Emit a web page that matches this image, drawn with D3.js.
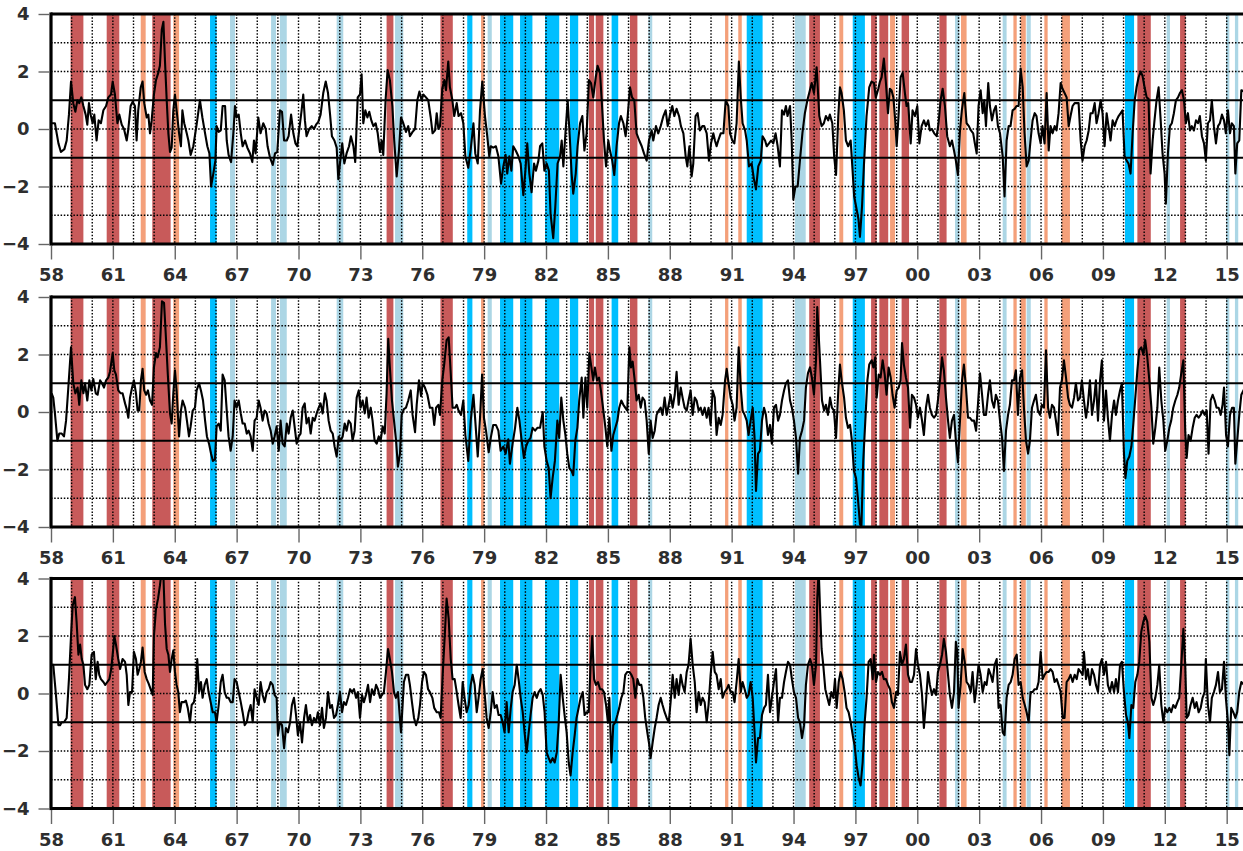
<!DOCTYPE html>
<html><head><meta charset="utf-8">
<script src="https://cdn.jsdelivr.net/npm/d3@7"></script>
<style>body{margin:0;background:#fff;}svg{display:block;}</style>
</head><body>
<svg id="chart" width="1243" height="851"></svg>
<script>
// ---------------- DATA ----------------
const xTickYears = [1958,1961,1964,1967,1970,1973,1976,1979,1982,1985,1988,1991,1994,1997,2000,2003,2006,2009,2012,2015];
const xTickLabels = ["58","61","64","67","70","73","76","79","82","85","88","91","94","97","00","03","06","09","12","15"];
const yTickValues = [-4,-2,0,2,4];
const dottedLevels = [-3,-2,0,2,3];
const thresholdLevels = [-1,1];

const bandStarts = [1958.95,1960.70,1962.35,1962.91,1963.93,1965.71,1966.68,1968.67,1969.10,1971.85,1974.27,1974.68,1976.88,1978.18,1978.85,1979.17,1979.77,1980.74,1981.95,1983.16,1984.08,1984.41,1985.18,1986.07,1986.96,1990.68,1991.32,1991.73,1994.07,1994.76,1996.22,1996.87,1997.76,1998.16,1998.68,1999.24,2001.07,2001.83,2002.12,2004.14,2004.66,2005.01,2005.30,2006.16,2007.00,2010.07,2010.67,2012.09,2012.74,2014.97,2015.40];
const bandEnds   = [1959.57,1961.31,1962.59,1963.80,1964.21,1966.03,1966.92,1968.91,1969.43,1972.17,1974.60,1975.08,1977.48,1978.43,1979.01,1979.37,1980.41,1981.34,1982.64,1983.56,1984.33,1984.78,1985.50,1986.43,1987.15,1990.84,1991.49,1992.50,1994.59,1995.28,1996.41,1997.46,1998.03,1998.59,1998.92,1999.60,2001.42,2002.04,2002.39,2004.33,2004.82,2005.26,2005.50,2006.32,2007.40,2010.51,2011.32,2012.25,2013.01,2015.13,2015.56];
const bandKinds  = ["W","W","w","W","w","C","c","c","c","c","W","c","W","C","w","c","C","C","C","C","W","W","C","W","c","w","w","C","c","W","w","C","W","W","w","W","W","c","w","c","w","w","c","w","w","C","W","c","W","c","c"];
const bandColors = {W:"#c85a5a", w:"#f4a07a", C:"#00bfff", c:"#acd6e5"};

const seriesTop = [[1958.03,0.2],[1958.19,0.2],[1958.36,-0.5],[1958.48,-0.8],[1958.65,-0.7],[1958.76,-0.4],[1958.87,0.5],[1958.97,1.65],[1959.08,0.9],[1959.18,0.6],[1959.28,1.0],[1959.37,0.9],[1959.47,1.1],[1959.57,0.8],[1959.68,0.5],[1959.76,0.15],[1959.84,0.9],[1959.92,0.5],[1960.02,0.2],[1960.10,0.5],[1960.21,-0.4],[1960.31,0.3],[1960.42,0.2],[1960.54,0.65],[1960.67,0.8],[1960.78,1.1],[1960.91,1.2],[1960.99,1.65],[1961.10,1.2],[1961.22,0.2],[1961.31,0.5],[1961.43,0.15],[1961.54,0.0],[1961.67,-0.4],[1961.75,0],[1961.86,0.8],[1961.96,0.95],[1962.07,0.8],[1962.15,-0.4],[1962.23,0.65],[1962.35,1.45],[1962.44,1.65],[1962.52,0.9],[1962.64,0.4],[1962.72,0.5],[1962.80,-0.15],[1962.88,0.3],[1962.99,1.2],[1963.09,1.7],[1963.20,1.95],[1963.28,2.2],[1963.37,3.45],[1963.45,3.73],[1963.53,2.3],[1963.61,1.0],[1963.69,-0.15],[1963.77,-0.8],[1963.85,-0.65],[1963.93,0.65],[1964.01,1.2],[1964.09,0.65],[1964.21,-0.15],[1964.30,-0.6],[1964.37,0.65],[1964.46,0.2],[1964.58,-0.15],[1964.66,-0.4],[1964.77,-0.9],[1964.90,-0.6],[1965.06,0.15],[1965.22,1.0],[1965.34,0.4],[1965.47,-0.15],[1965.58,-0.6],[1965.68,-0.85],[1965.76,-2.0],[1965.87,-1.55],[1965.97,-1.1],[1966.03,0.1],[1966.13,-0.1],[1966.23,-0.05],[1966.32,0.8],[1966.44,0.8],[1966.52,-0.4],[1966.61,-0.9],[1966.73,-1.15],[1966.84,-0.15],[1966.92,0.8],[1967.00,0.4],[1967.10,0.5],[1967.20,-0.15],[1967.29,-0.6],[1967.41,-0.4],[1967.52,-0.65],[1967.65,-0.85],[1967.76,-1.15],[1967.84,-0.4],[1967.92,-0.85],[1968.05,0.4],[1968.16,-0.15],[1968.29,0.2],[1968.41,0.0],[1968.50,-0.6],[1968.62,-1.0],[1968.75,-1.25],[1968.86,-0.85],[1968.97,-0.8],[1969.10,0.65],[1969.20,0.6],[1969.30,-0.4],[1969.43,-0.4],[1969.52,-0.25],[1969.64,0.5],[1969.75,-0.15],[1969.85,-0.5],[1969.94,-0.6],[1970.04,0],[1970.15,0.65],[1970.23,1.2],[1970.31,0.3],[1970.39,-0.25],[1970.52,0],[1970.64,0.1],[1970.75,0],[1970.85,0.15],[1970.96,0.25],[1971.07,0.5],[1971.20,1.25],[1971.32,1.65],[1971.43,1.25],[1971.53,0.5],[1971.62,-0.25],[1971.74,-0.4],[1971.85,-0.65],[1971.93,-1.75],[1972.01,-1.2],[1972.12,-0.5],[1972.22,-1.2],[1972.33,-0.85],[1972.45,-0.6],[1972.54,-0.25],[1972.66,-0.6],[1972.75,-1.15],[1972.87,1.1],[1972.98,1.2],[1973.06,1.9],[1973.14,0.2],[1973.24,0.65],[1973.34,0.4],[1973.43,0.6],[1973.53,0.3],[1973.63,0.1],[1973.74,0.2],[1973.84,-0.15],[1973.95,-0.8],[1974.03,-0.4],[1974.11,-0.9],[1974.22,1.0],[1974.32,2.05],[1974.43,1.7],[1974.55,0.8],[1974.64,-0.4],[1974.76,-1.65],[1974.87,-0.75],
[1974.97,0.4],[1975.08,0.2],[1975.21,-0.1],[1975.32,0.1],[1975.40,-0.25],[1975.53,-0.1],[1975.65,0],[1975.76,1.0],[1975.86,1.3],[1975.97,1.0],[1976.05,1.2],[1976.18,1.1],[1976.29,1.0],[1976.41,0.4],[1976.50,-0.15],[1976.62,-0.05],[1976.70,0.55],[1976.78,0.0],[1976.86,0.1],[1976.97,1.4],[1977.07,1.7],[1977.15,1.35],[1977.26,2.35],[1977.34,1.45],[1977.46,1.0],[1977.55,0.45],[1977.67,0.9],[1977.76,0.45],[1977.88,0.55],[1977.99,0.2],[1978.09,-0.95],[1978.23,-1.35],[1978.35,-0.7],[1978.48,0.2],[1978.57,-0.85],[1978.69,-1.2],[1978.80,0.65],[1978.91,1.65],[1979.04,0.45],[1979.15,-0.25],[1979.25,-0.95],[1979.32,-0.6],[1979.44,-0.65],[1979.57,-0.6],[1979.69,-0.95],[1979.82,-1.9],[1979.93,-1.3],[1980.04,-0.9],[1980.12,-1.55],[1980.22,-0.95],[1980.32,-1.45],[1980.41,-0.6],[1980.53,-0.75],[1980.66,-0.95],[1980.77,-1.2],[1980.90,-2.3],[1981.00,-1.45],[1981.09,-0.5],[1981.19,-1.55],[1981.30,-2.2],[1981.42,-1.2],[1981.51,-1.45],[1981.63,-1.1],[1981.71,-0.6],[1981.82,-0.5],[1981.92,-1.45],[1982.03,-1.2],[1982.14,-1.45],[1982.22,-2.95],[1982.35,-3.8],[1982.45,-2.7],[1982.56,-1.2],[1982.68,-0.95],[1982.76,-0.4],[1982.84,-1.3],[1982.95,-0.05],[1983.05,1.0],[1983.16,-0.4],[1983.24,-1.55],[1983.32,-2.25],[1983.44,-1.55],[1983.53,-0.6],[1983.65,0.2],[1983.76,0.45],[1983.86,-0.75],[1983.97,-0.15],[1984.08,1.7],[1984.18,1.6],[1984.29,1.1],[1984.41,1.8],[1984.50,2.2],[1984.62,1.95],[1984.70,1.0],[1984.81,-0.4],[1984.91,-1.3],[1985.02,-0.4],[1985.10,-0.75],[1985.21,-1.1],[1985.31,-1.6],[1985.42,-0.6],[1985.54,0.2],[1985.63,0.45],[1985.75,0.2],[1985.86,-0.25],[1985.96,0.45],[1986.07,1.45],[1986.17,1.1],[1986.28,1.0],[1986.39,-0.15],[1986.52,-0.4],[1986.64,-0.6],[1986.75,-0.85],[1986.88,-1.1],[1986.99,-0.4],[1987.12,-0.05],[1987.20,-0.4],[1987.33,0.1],[1987.44,-0.15],[1987.56,0.1],[1987.69,0.45],[1987.80,0.65],[1987.90,0.1],[1988.01,0.5],[1988.12,0.8],[1988.22,0.45],[1988.33,0.7],[1988.45,0.45],[1988.54,0.1],[1988.66,-0.15],[1988.77,-0.95],[1988.85,-1.3],[1988.95,-0.6],[1989.06,-1.65],[1989.14,-1.2],[1989.25,0.45],[1989.35,0.55],[1989.46,-0.05],[1989.58,0.1],[1989.67,0.1],[1989.79,-0.15],[1989.90,-1.1],[1990.00,-0.5],[1990.11,-0.15],[1990.19,-0.4],[1990.27,-0.6],[1990.35,-0.4],[1990.47,-0.15],[1990.60,-0.15],[1990.71,1.0],[1990.84,0.8],[1990.92,-0.15],[1991.03,-0.4],[1991.13,-0.5],[1991.24,0.2],[1991.35,2.35],[1991.44,1.1],[1991.53,0.2],[1991.65,-0.05],[1991.73,-0.4],[1991.84,-1.3],[1991.97,-1.2],[1992.08,-1.75],[1992.18,-2.1],[1992.29,-1.3],[1992.41,-1.1],[1992.50,-0.25],[1992.62,-0.4],[1992.70,-0.6],[1992.81,-0.5],[1992.91,-0.4],[1993.02,-0.5],[1993.13,-0.15],[1993.23,-0.6],[1993.34,-1.3],[1993.44,0.65],[1993.54,0.5],[1993.63,0.8],[1993.71,0.45],[1993.83,0.8],[1993.91,-0.4],[1993.99,-2.45],[1994.09,-2.0],[1994.20,-2.0],[1994.31,-1.1],[1994.43,-0.15],[1994.55,0.55],[1994.67,1.0],[1994.76,1.25],[1994.88,1.6],[1994.99,1.25],[1995.12,2.15],[1995.25,0.45],
[1995.36,0.1],[1995.47,0.2],[1995.57,0.45],[1995.68,0.3],[1995.76,0.5],[1995.88,0.2],[1995.97,-0.95],[1996.06,-1.6],[1996.17,0.45],[1996.25,1.45],[1996.33,1.25],[1996.44,0.65],[1996.54,-0.4],[1996.65,-0.6],[1996.77,-0.4],[1996.85,-1.3],[1996.94,-2.35],[1997.06,-2.8],[1997.15,-3.15],[1997.22,-3.75],[1997.32,-2.7],[1997.41,-1.3],[1997.54,0.45],[1997.67,1.45],[1997.78,1.65],[1997.90,1.6],[1997.99,1.1],[1998.11,1.4],[1998.19,1.65],[1998.27,1.8],[1998.38,2.45],[1998.48,1.6],[1998.58,0.55],[1998.67,1.4],[1998.75,1.35],[1998.84,1.1],[1998.93,0.3],[1999.00,-0.6],[1999.09,0.45],[1999.19,1.8],[1999.29,1.95],[1999.40,1.25],[1999.48,0.8],[1999.56,0.9],[1999.68,-0.5],[1999.77,0.65],[1999.89,0.45],[2000.00,0.8],[2000.10,-0.5],[2000.21,0.1],[2000.32,0.3],[2000.42,0.1],[2000.53,0.3],[2000.61,-0.05],[2000.71,0],[2000.82,-0.15],[2000.94,-0.25],[2001.03,0.2],[2001.13,1.0],[2001.23,1.4],[2001.34,0.8],[2001.45,-0.25],[2001.58,-0.6],[2001.68,-0.4],[2001.78,-0.75],[2001.87,-1.1],[2001.97,-1.6],[2002.07,-0.05],[2002.16,0.65],[2002.28,1.25],[2002.39,0.2],[2002.50,0.1],[2002.60,-0.05],[2002.71,-0.15],[2002.79,-0.5],[2002.88,-0.85],[2002.97,0.8],[2003.07,1.35],[2003.17,0.55],[2003.25,1.0],[2003.33,0.1],[2003.44,1.6],[2003.52,0.8],[2003.62,0.3],[2003.72,0.65],[2003.81,0.8],[2003.91,0.1],[2004.01,-0.15],[2004.14,-0.95],[2004.23,-2.35],[2004.33,-0.4],[2004.43,0.1],[2004.52,0.1],[2004.62,0.65],[2004.72,0.7],[2004.81,0.8],[2004.91,0.8],[2005.01,2.1],[2005.11,1.45],[2005.20,-0.15],[2005.30,-1.3],[2005.40,-1.1],[2005.49,-0.4],[2005.59,0.3],[2005.69,0.55],[2005.78,0.45],[2005.88,-0.15],[2005.98,-0.5],[2006.07,0.1],[2006.17,-0.5],[2006.27,1.25],[2006.37,-0.75],[2006.46,0.1],[2006.56,-0.15],[2006.66,0.1],[2006.75,-0.05],[2006.85,0.55],[2006.95,1.6],[2007.04,1.4],[2007.14,1.25],[2007.24,1.1],[2007.34,0.1],[2007.43,0.45],[2007.53,0.8],[2007.63,0.9],[2007.72,0.9],[2007.82,0.9],[2007.92,-0.4],[2008.01,-1.1],[2008.11,-0.6],[2008.21,-0.4],[2008.31,-0.05],[2008.40,0.55],[2008.50,0.55],[2008.60,0.9],[2008.69,0.2],[2008.79,0.55],[2008.89,1.0],[2008.98,0.55],[2009.08,-0.6],[2009.18,0.55],[2009.27,0.1],[2009.37,-0.4],[2009.47,0.3],[2009.57,0.1],[2009.66,0.3],[2009.76,0.45],[2009.86,0.55],[2009.95,0.65],[2010.05,-0.95],[2010.15,-1.1],[2010.24,-1.2],[2010.34,-1.55],[2010.44,-0.15],[2010.54,1.0],[2010.63,1.45],[2010.73,1.8],[2010.83,2.0],[2010.92,1.85],[2011.02,1.45],[2011.12,1.1],[2011.21,1.05],[2011.31,-1.55],[2011.41,-0.4],[2011.50,0.3],[2011.60,1.0],[2011.70,1.45],[2011.80,0.3],[2011.89,-0.85],[2011.99,-1.55],[2012.05,-2.6],[2012.15,-0.85],[2012.25,0.1],[2012.34,0.2],[2012.44,0.55],[2012.54,1.0],[2012.64,1.1],[2012.73,1.25],[2012.83,1.35],[2012.93,1.0],[2013.02,0.2],[2013.12,0.55],[2013.22,-0.05],[2013.31,0.1],[2013.41,-0.05],[2013.51,0.3],[2013.61,0.2],[2013.70,0.45],[2013.80,-0.25],[2013.90,-0.5],[2013.99,-1.1],[2014.09,0.2],[2014.19,0.3],[2014.28,1.0],[2014.38,0.1],[2014.48,-0.5],[2014.58,0.1],[2014.67,0.2],[2014.77,0.5],[2014.87,0.3],[2014.96,-0.15],[2015.06,0.65],[2015.16,-0.15],[2015.25,0.2],[2015.35,0.1],[2015.42,-1.55],[2015.51,-0.5],[2015.61,-0.4],[2015.71,1.35],[2015.85,1.3]];

const seriesMiddle = [[1958.03,0.65],[1958.11,0.5],[1958.19,-0.05],[1958.31,-1.0],[1958.40,-0.75],[1958.52,-0.75],[1958.63,-0.85],[1958.73,-0.3],[1958.84,0.85],[1958.97,2.25],[1959.08,1.0],[1959.18,0.65],[1959.29,0.85],[1959.37,0.25],[1959.47,1.1],[1959.57,0.65],[1959.65,1.0],[1959.76,0.4],[1959.86,1.1],[1959.96,0.75],[1960.05,1.15],[1960.17,0.65],[1960.26,0.6],[1960.38,1.1],[1960.47,1.0],[1960.57,0.85],[1960.67,1.1],[1960.78,1.2],[1960.86,1.4],[1960.99,2.05],[1961.07,1.45],[1961.15,1.3],[1961.26,0.75],[1961.38,0.65],[1961.47,0.65],[1961.59,0.3],[1961.67,0.1],[1961.75,-0.2],[1961.83,0.5],[1961.93,0.85],[1962.02,1.1],[1962.12,0.65],[1962.20,0.05],[1962.28,0.05],[1962.36,1.1],[1962.44,1.5],[1962.52,0.75],[1962.61,0.6],[1962.70,0.75],[1962.80,0.4],[1962.90,0.25],[1962.99,1.55],[1963.09,2.05],[1963.17,1.9],[1963.28,2.25],[1963.38,3.85],[1963.48,3.8],[1963.56,2.75],[1963.66,1.35],[1963.77,-0.05],[1963.85,-0.4],[1963.93,0.65],[1964.01,1.45],[1964.09,0.75],[1964.21,-0.85],[1964.30,0.05],[1964.38,0.4],[1964.50,0.15],[1964.59,-0.3],[1964.69,-0.85],[1964.77,-0.5],[1964.87,0.05],[1964.98,0.15],[1965.06,0.75],[1965.18,1.0],[1965.27,0.75],[1965.37,0.4],[1965.47,-0.3],[1965.56,-0.85],[1965.66,-1.1],[1965.76,-1.45],[1965.85,-1.7],[1965.95,-1.65],[1966.03,-0.5],[1966.13,-0.4],[1966.23,-0.65],[1966.32,1.3],[1966.42,1.1],[1966.52,0.05],[1966.61,-0.85],[1966.71,-1.35],[1966.81,-0.85],[1966.90,0.4],[1967.00,0.15],[1967.10,0.4],[1967.20,-0.05],[1967.29,-0.4],[1967.39,-0.4],[1967.49,-0.75],[1967.58,-0.65],[1967.68,-0.85],[1967.78,-1.35],[1967.87,-0.3],[1967.97,-0.2],[1968.07,0.4],[1968.16,0.15],[1968.26,-0.3],[1968.36,0.05],[1968.46,-0.05],[1968.55,-0.4],[1968.65,-0.65],[1968.75,-1.1],[1968.84,-0.85],[1968.94,-0.5],[1969.04,-1.35],[1969.13,-0.3],[1969.23,-1.1],[1969.33,-1.2],[1969.43,-0.4],[1969.52,-0.75],[1969.62,-0.2],[1969.72,0.05],[1969.81,-0.5],[1969.91,-1.1],[1970.01,-0.85],[1970.10,-0.75],[1970.20,0.15],[1970.30,0.3],[1970.39,-0.4],[1970.49,-0.2],[1970.59,-0.75],[1970.69,-0.2],[1970.78,-0.3],[1970.88,-0.05],[1970.98,0.15],[1971.07,0.3],[1971.17,-0.05],[1971.28,0.65],[1971.36,0.4],[1971.46,-0.3],[1971.56,-0.65],[1971.66,-0.75],[1971.75,-1.2],[1971.85,-1.55],[1971.95,-0.85],[1972.04,-1.0],[1972.14,-0.85],[1972.24,-0.4],[1972.33,-0.65],[1972.43,-0.3],[1972.53,-0.4],[1972.62,-1.0],[1972.72,-0.65],[1972.82,0.5],[1972.92,0.75],[1973.01,0.15],[1973.11,0.4],[1973.21,-0.05],[1973.30,0.5],[1973.40,-0.2],[1973.50,0.15],[1973.59,-0.3],[1973.69,-1.0],[1973.79,-1.1],[1973.89,-0.85],[1973.98,-1.0],[1974.08,-0.5],[1974.18,-0.75],[1974.27,0.65],[1974.35,2.55],[1974.43,1.55],[1974.53,0.4],[1974.63,-0.3],[1974.73,-1.0],[1974.82,-1.9],
[1974.92,-1.45],[1975.00,-0.1],[1975.11,0.1],[1975.21,0.15],[1975.32,0.4],[1975.44,0.75],[1975.53,-0.1],[1975.65,-0.7],[1975.73,0.25],[1975.84,1.1],[1975.94,0.55],[1976.02,1.0],[1976.13,0.85],[1976.25,0.6],[1976.37,0.15],[1976.49,0.15],[1976.58,-0.45],[1976.67,0.15],[1976.78,0.25],[1976.86,-0.1],[1976.97,1.1],[1977.07,1.7],[1977.18,2.5],[1977.28,2.6],[1977.38,1.35],[1977.47,0.15],[1977.59,0.15],[1977.67,0.25],[1977.76,0.05],[1977.88,-0.1],[1977.99,0.4],[1978.09,-0.8],[1978.23,-1.7],[1978.35,-0.3],[1978.48,0.6],[1978.57,-0.3],[1978.69,-1.55],[1978.80,-0.2],[1978.90,1.3],[1978.99,-0.2],[1979.09,-0.65],[1979.22,-1.4],[1979.32,-0.9],[1979.44,-0.45],[1979.57,-0.45],[1979.69,-0.65],[1979.80,-1.35],[1979.93,-1.2],[1980.04,-1.45],[1980.17,-0.95],[1980.25,-1.8],[1980.38,-1.1],[1980.50,-0.55],[1980.61,0.15],[1980.71,-0.3],[1980.82,-1.0],[1980.93,-1.6],[1981.03,-1.2],[1981.14,-1.0],[1981.25,-0.9],[1981.35,-0.55],[1981.47,-0.65],[1981.58,-0.55],[1981.71,-0.55],[1981.84,0],[1981.92,-1.2],[1982.03,-1.7],[1982.13,-1.95],[1982.22,-3.0],[1982.32,-2.3],[1982.43,-1.7],[1982.55,-0.3],[1982.64,-0.9],[1982.74,0.5],[1982.84,-0.3],[1982.94,-0.8],[1983.03,-1.45],[1983.13,-1.95],[1983.24,-2.05],[1983.32,-2.2],[1983.42,-1.0],[1983.52,-0.55],[1983.61,0.4],[1983.73,1.2],[1983.81,-0.2],[1983.91,1.2],[1984.00,0.15],[1984.10,2.05],[1984.20,1.55],[1984.29,1.1],[1984.37,1.55],[1984.47,1.1],[1984.57,1.2],[1984.66,0.75],[1984.78,0.05],[1984.88,-0.55],[1984.97,-1.2],[1985.07,-0.2],[1985.17,-1.35],[1985.26,-0.8],[1985.36,-0.55],[1985.46,-0.3],[1985.55,0.15],[1985.65,0.4],[1985.75,0.25],[1985.84,0.15],[1985.94,0.05],[1986.04,2.25],[1986.12,1.55],[1986.20,1.75],[1986.30,1.1],[1986.39,0.4],[1986.49,0.6],[1986.59,0.15],[1986.68,0.5],[1986.78,0.4],[1986.88,-0.3],[1986.98,-1.45],[1987.07,-0.3],[1987.17,-0.9],[1987.27,-0.65],[1987.36,-0.1],[1987.46,0.05],[1987.56,0.15],[1987.65,-0.1],[1987.75,0.5],[1987.85,-0.1],[1987.95,0.25],[1988.04,0.6],[1988.14,0.15],[1988.24,0.6],[1988.33,1.4],[1988.43,0.25],[1988.53,0.85],[1988.62,0.5],[1988.72,0.15],[1988.82,0.05],[1988.91,0.4],[1989.01,0.75],[1989.11,-0.1],[1989.21,0.5],[1989.30,0.4],[1989.40,0.05],[1989.50,0.15],[1989.59,-0.1],[1989.69,0.15],[1989.79,-0.2],[1989.88,0.15],[1989.98,-0.45],[1990.08,0.75],[1990.18,0.5],[1990.27,-0.8],[1990.37,-0.2],[1990.47,-0.45],[1990.56,-0.1],[1990.68,1.1],[1990.76,1.5],[1990.85,1.0],[1990.95,0.5],[1991.05,0.25],[1991.14,-0.3],[1991.24,0.15],[1991.34,2.25],[1991.44,0.85],[1991.53,0.05],[1991.63,-0.1],[1991.73,-0.3],[1991.82,-0.8],[1991.92,-0.3],[1992.02,0.15],[1992.11,-0.9],[1992.18,-2.75],[1992.28,-1.45],[1992.37,-1.35],[1992.47,-0.3],[1992.57,0.15],[1992.66,-0.1],[1992.76,-0.8],[1992.86,-0.45],[1992.95,-1.1],[1993.05,0.15],[1993.15,0.25],[1993.25,-0.3],[1993.34,-0.1],[1993.44,0.4],[1993.54,0.75],[1993.63,1.0],[1993.73,1.1],[1993.83,0.4],[1993.92,0.15],[1994.02,-0.3],[1994.12,-0.9],[1994.22,-2.15],[1994.31,-0.9],[1994.41,-0.65],[1994.51,-0.3],[1994.60,0.85],[1994.70,1.35],[1994.80,1.55],[1994.89,1.2],[1994.99,0.6],[1995.09,1.8],[1995.15,3.65],[1995.25,2.25],
[1995.38,0.4],[1995.48,0.05],[1995.57,0.25],[1995.67,-0.1],[1995.77,0.5],[1995.86,0.15],[1995.96,0.05],[1996.06,-0.9],[1996.17,0.75],[1996.25,1.65],[1996.35,1.0],[1996.45,0.5],[1996.54,-0.2],[1996.64,-0.55],[1996.74,-0.45],[1996.83,-1.0],[1996.93,-2.05],[1997.03,-2.3],[1997.12,-3.0],[1997.22,-3.9],[1997.29,-4.0],[1997.38,-1.7],[1997.48,-0.3],[1997.58,1.1],[1997.67,1.65],[1997.79,1.8],[1997.87,1.55],[1997.96,1.9],[1998.03,0.5],[1998.13,1.3],[1998.22,1.2],[1998.32,1.8],[1998.42,1.3],[1998.51,0.6],[1998.61,1.55],[1998.71,1.2],[1998.80,0.6],[1998.90,0.15],[1999.00,0.75],[1999.10,0.85],[1999.19,1.1],[1999.26,2.4],[1999.35,1.65],[1999.45,1.2],[1999.55,0.85],[1999.65,-0.55],[1999.74,0.6],[1999.84,0.5],[1999.94,0.25],[2000.03,-0.2],[2000.13,0.15],[2000.23,-0.3],[2000.32,-0.8],[2000.42,0.15],[2000.52,0.6],[2000.61,0.15],[2000.71,-0.1],[2000.81,-0.2],[2000.91,-0.1],[2001.00,0.4],[2001.10,1.1],[2001.20,1.9],[2001.29,1.45],[2001.39,0.5],[2001.49,-0.3],[2001.58,-0.9],[2001.68,-0.3],[2001.78,-0.1],[2001.87,-1.0],[2001.97,-1.75],[2002.07,-0.3],[2002.17,1.1],[2002.26,1.65],[2002.36,0.85],[2002.46,-0.2],[2002.55,-0.2],[2002.65,-0.3],[2002.75,-0.3],[2002.85,-0.65],[2002.94,0.25],[2003.04,1.35],[2003.14,0.6],[2003.23,-0.1],[2003.33,-0.1],[2003.43,0.6],[2003.52,1.1],[2003.62,0.4],[2003.72,0.15],[2003.81,0.6],[2003.91,0.4],[2004.01,-0.3],[2004.11,-0.9],[2004.20,-2.05],[2004.30,-0.65],[2004.40,-0.1],[2004.49,0.25],[2004.59,1.1],[2004.69,1.1],[2004.78,1.45],[2004.88,-0.1],[2004.98,1.2],[2005.08,1.45],[2005.17,0.15],[2005.27,-1.0],[2005.37,-1.45],[2005.46,-1.0],[2005.56,0.15],[2005.66,0.4],[2005.75,0.6],[2005.85,0.05],[2005.95,-0.1],[2006.04,0.25],[2006.14,0.15],[2006.24,2.15],[2006.34,0.15],[2006.43,-0.2],[2006.53,0.25],[2006.63,0.15],[2006.72,-0.3],[2006.82,-0.8],[2006.92,0.85],[2007.01,1.1],[2007.11,1.8],[2007.21,1.2],[2007.31,0.5],[2007.40,0.25],[2007.50,0.15],[2007.60,0.5],[2007.69,1.0],[2007.79,0.4],[2007.89,0.5],[2007.98,1.1],[2008.08,0.4],[2008.18,-0.2],[2008.27,0.25],[2008.37,1.1],[2008.47,-0.1],[2008.57,0.4],[2008.66,1.1],[2008.76,-0.3],[2008.86,1.1],[2008.95,1.8],[2009.05,-0.3],[2009.15,0.75],[2009.24,-0.2],[2009.34,-1.0],[2009.44,-0.1],[2009.54,0.4],[2009.63,-0.1],[2009.73,0.4],[2009.83,0.75],[2009.92,1.0],[2010.02,-1.45],[2010.09,-2.3],[2010.18,-1.7],[2010.28,-1.55],[2010.38,-1.2],[2010.47,-0.45],[2010.57,0.5],[2010.67,1.45],[2010.76,2.15],[2010.86,2.25],[2010.96,2.0],[2011.05,2.5],[2011.15,1.9],[2011.25,1.1],[2011.35,0.15],[2011.44,-1.1],[2011.54,-0.55],[2011.64,0.15],[2011.73,1.55],[2011.83,0.4],[2011.93,-0.3],[2012.02,-1.35],[2012.12,-1.0],[2012.22,-0.55],[2012.31,-0.3],[2012.41,0.15],[2012.51,0.4],[2012.61,0.6],[2012.70,0.85],[2012.80,1.35],[2012.90,1.8],[2012.99,-0.65],[2013.06,-1.6],[2013.15,-0.8],[2013.25,-1.0],[2013.35,-0.55],[2013.45,-0.2],[2013.54,-0.1],[2013.64,-0.2],[2013.74,-0.1],[2013.83,0.05],[2013.93,-0.1],[2014.03,0.05],[2014.12,-1.45],[2014.22,0.4],[2014.32,0.6],[2014.42,0.4],[2014.51,0.15],[2014.61,0.15],[2014.71,-0.1],[2014.80,0.25],[2014.87,0.85],[2014.97,-0.8],[2015.06,-1.2],[2015.16,-0.1],[2015.26,0.15],[2015.35,0.15],[2015.42,-1.8],[2015.51,-1.0],[2015.61,-0.1],[2015.71,0.6],[2015.85,0.8]];

const seriesBottom = [[1958.03,1.0],[1958.11,1.0],[1958.24,-0.05],[1958.36,-1.1],[1958.44,-1.1],[1958.52,-1.0],[1958.63,-1.0],[1958.76,-0.85],[1958.87,0.5],[1958.97,2.0],[1959.05,3.05],[1959.16,3.35],[1959.24,2.5],[1959.33,1.35],[1959.41,1.7],[1959.49,1.2],[1959.57,1.0],[1959.65,0.3],[1959.76,0.15],[1959.86,0.3],[1959.97,1.35],[1960.08,1.45],[1960.17,0.5],[1960.26,1.1],[1960.34,0.65],[1960.42,0.5],[1960.54,0.4],[1960.63,0.3],[1960.73,0.4],[1960.83,0.5],[1960.92,0.85],[1960.99,1.35],[1961.07,2.0],[1961.15,1.7],[1961.26,1.2],[1961.35,0.85],[1961.47,1.2],[1961.59,1.1],[1961.67,0.65],[1961.75,-0.4],[1961.83,0.05],[1961.93,0.05],[1962.02,1.45],[1962.12,1.2],[1962.20,0.65],[1962.28,0.85],[1962.36,1.1],[1962.44,1.6],[1962.54,0.75],[1962.64,0.5],[1962.73,0.35],[1962.83,0.15],[1962.93,-0.05],[1962.99,2.0],[1963.09,2.95],[1963.19,3.3],[1963.28,3.75],[1963.37,4.3],[1963.45,4.1],[1963.53,2.4],[1963.61,1.55],[1963.69,1.35],[1963.77,0.75],[1963.85,1.2],[1963.93,1.5],[1964.01,0.75],[1964.09,0.3],[1964.17,0.05],[1964.25,-0.65],[1964.33,-0.3],[1964.45,-0.3],[1964.54,-0.25],[1964.63,-0.5],[1964.74,-1.0],[1964.82,-0.4],[1964.93,-0.3],[1965.01,0.05],[1965.09,1.2],[1965.18,0.05],[1965.27,0.4],[1965.35,-0.15],[1965.45,0.3],[1965.55,0.5],[1965.64,0.05],[1965.74,-0.3],[1965.84,-0.65],[1965.95,-0.65],[1966.03,-1.0],[1966.13,-0.4],[1966.23,0.4],[1966.32,0.65],[1966.42,0.05],[1966.52,-0.15],[1966.61,-0.15],[1966.71,-0.3],[1966.81,-0.3],[1966.90,0.5],[1967.00,0.4],[1967.10,0.05],[1967.20,-0.3],[1967.29,-0.65],[1967.39,-1.1],[1967.49,-1.0],[1967.58,-0.65],[1967.68,-0.4],[1967.78,-1.0],[1967.87,0.15],[1967.97,-0.15],[1968.07,-0.4],[1968.16,0.4],[1968.26,-0.05],[1968.36,-0.3],[1968.46,0.05],[1968.55,0.15],[1968.65,0.4],[1968.75,0.3],[1968.84,-0.05],[1968.94,-0.15],[1969.00,-1.45],[1969.10,-1.0],[1969.20,-1.1],[1969.30,-1.9],[1969.39,-1.2],[1969.49,-1.35],[1969.59,-1.0],[1969.68,-0.4],[1969.78,-0.15],[1969.88,-0.75],[1969.97,-1.45],[1970.07,-1.0],[1970.17,-1.7],[1970.27,-0.85],[1970.36,-0.4],[1970.46,-1.0],[1970.56,-0.75],[1970.65,-1.1],[1970.75,-0.85],[1970.85,-1.0],[1970.94,-0.65],[1971.04,-1.1],[1971.14,-0.5],[1971.23,-1.2],[1971.33,-0.85],[1971.43,0.05],[1971.53,-0.5],[1971.62,-0.4],[1971.72,-0.85],[1971.82,-0.75],[1971.91,-0.4],[1972.01,0.05],[1972.11,-0.65],[1972.20,-0.3],[1972.30,-0.4],[1972.40,-0.15],[1972.50,0.15],[1972.59,0.05],[1972.69,0.15],[1972.79,-0.15],[1972.88,0.05],[1972.98,-0.85],[1973.08,-0.05],[1973.17,-0.3],[1973.27,-0.05],[1973.37,0.3],[1973.47,-0.3],[1973.56,0.15],[1973.66,-0.05],[1973.76,0.3],[1973.85,0.15],[1973.95,-0.15],[1974.05,-0.05],[1974.14,0.05],[1974.24,0.75],[1974.34,1.55],[1974.43,1.2],[1974.53,0.75],[1974.63,0.05],[1974.72,-0.15],[1974.82,0.05],[1974.97,-1.35],
[1975.11,0.4],[1975.21,0.65],[1975.32,0.65],[1975.40,0.3],[1975.50,-0.3],[1975.60,-0.85],[1975.70,-1.1],[1975.81,-0.85],[1975.89,-0.4],[1975.99,0.4],[1976.08,0.75],[1976.18,0.65],[1976.28,0.15],[1976.37,0.05],[1976.49,-0.15],[1976.58,-0.5],[1976.70,-0.65],[1976.81,-0.65],[1976.89,-0.85],[1976.99,0.65],[1977.10,2.15],[1977.18,3.3],[1977.28,2.6],[1977.38,1.2],[1977.47,0.5],[1977.57,0.5],[1977.67,0.05],[1977.76,-0.4],[1977.86,-0.85],[1977.96,0.4],[1978.05,-0.15],[1978.15,-0.65],[1978.25,-0.4],[1978.35,0.3],[1978.44,0.65],[1978.54,0.3],[1978.64,-0.65],[1978.73,-0.15],[1978.83,0.5],[1978.93,0.85],[1979.02,0.05],[1979.12,-0.85],[1979.22,-1.2],[1979.32,-0.65],[1979.41,0.05],[1979.51,-0.5],[1979.61,-0.4],[1979.70,-0.75],[1979.80,-0.75],[1979.90,-1.0],[1979.99,-1.35],[1980.09,-0.3],[1980.19,-1.35],[1980.29,-0.5],[1980.38,0.05],[1980.48,0.3],[1980.58,1.0],[1980.67,0.5],[1980.77,-0.15],[1980.87,-0.65],[1980.96,-1.35],[1981.06,-2.05],[1981.16,-1.35],[1981.25,-0.75],[1981.35,-0.15],[1981.45,0.05],[1981.55,-0.15],[1981.64,0.05],[1981.74,0.15],[1981.84,-0.05],[1981.93,-0.65],[1982.03,-2.05],[1982.13,-2.25],[1982.22,-2.4],[1982.32,-2.25],[1982.42,-2.4],[1982.52,-2.05],[1982.61,-1.1],[1982.71,0.65],[1982.81,-0.15],[1982.90,-0.75],[1983.00,-1.35],[1983.10,-2.4],[1983.19,-2.85],[1983.29,-2.05],[1983.39,-1.45],[1983.48,-0.85],[1983.58,-0.5],[1983.68,-0.15],[1983.78,0.05],[1983.87,-0.75],[1983.97,-0.65],[1984.07,-0.65],[1984.16,1.0],[1984.24,2.0],[1984.33,0.5],[1984.42,0.3],[1984.52,0.4],[1984.62,0.15],[1984.71,0.15],[1984.81,0.05],[1984.91,-0.4],[1985.00,-1.0],[1985.07,-0.15],[1985.17,-2.4],[1985.26,-1.1],[1985.36,-1.0],[1985.46,-0.75],[1985.55,-0.5],[1985.65,-0.15],[1985.75,0.05],[1985.84,0.65],[1985.94,0.75],[1986.04,0.75],[1986.14,0.65],[1986.23,0.5],[1986.33,-0.15],[1986.43,0.5],[1986.52,0.3],[1986.62,0.3],[1986.72,-0.15],[1986.81,-0.85],[1986.91,-1.35],[1987.01,-1.8],[1987.07,-2.25],[1987.17,-1.7],[1987.27,-1.2],[1987.36,-0.85],[1987.46,-0.4],[1987.56,-0.15],[1987.65,-0.4],[1987.75,-0.65],[1987.85,-0.85],[1987.95,-1.0],[1988.04,-0.3],[1988.14,0.65],[1988.24,-0.15],[1988.33,0.5],[1988.43,-0.05],[1988.53,0.65],[1988.62,0.3],[1988.72,0.05],[1988.82,0.75],[1988.91,1.0],[1989.01,1.9],[1989.11,1.0],[1989.21,0.4],[1989.30,-0.65],[1989.40,0.05],[1989.50,-0.4],[1989.59,-0.15],[1989.69,-0.3],[1989.79,-1.0],[1989.88,-0.4],[1989.98,0.65],[1990.08,1.45],[1990.18,0.75],[1990.27,0.65],[1990.37,0.15],[1990.47,0.5],[1990.56,-0.15],[1990.66,0.05],[1990.76,0.15],[1990.85,0.3],[1990.95,0.05],[1991.05,0.05],[1991.14,-0.3],[1991.24,0.4],[1991.34,1.2],[1991.44,0.05],[1991.53,0.4],[1991.63,0.15],[1991.73,-0.15],[1991.82,-0.05],[1991.92,0.4],[1992.02,-0.15],[1992.11,-1.35],[1992.18,-2.4],[1992.28,-1.55],[1992.37,-1.55],[1992.47,-0.75],[1992.57,-0.5],[1992.66,-0.4],[1992.76,0.65],[1992.86,-0.65],[1992.95,-0.15],[1993.05,0.4],[1993.15,0.85],[1993.25,-1.0],[1993.34,-0.15],[1993.44,-0.15],[1993.54,0.4],[1993.63,0.75],[1993.73,1.1],[1993.83,1.0],[1993.92,0.5],[1994.02,0.05],[1994.12,-0.15],[1994.22,-0.85],[1994.31,-1.0],[1994.41,-1.55],[1994.51,-1.1],[1994.60,0.3],[1994.70,1.0],[1994.80,1.2],[1994.89,1.0],[1994.99,0.3],[1995.09,1.0],[1995.15,3.3],[1995.22,4.3],
[1995.28,3.05],[1995.36,1.55],[1995.44,1.0],[1995.54,0.15],[1995.64,-0.15],[1995.73,-0.4],[1995.83,0.05],[1995.93,-0.15],[1996.01,0.5],[1996.09,-0.5],[1996.19,0.4],[1996.28,0.75],[1996.38,0.5],[1996.48,0.05],[1996.57,-0.5],[1996.67,-0.65],[1996.77,-1.0],[1996.87,-1.45],[1996.96,-1.8],[1997.06,-2.5],[1997.16,-2.95],[1997.25,-3.2],[1997.35,-2.4],[1997.45,-1.0],[1997.54,-0.15],[1997.64,1.1],[1997.74,1.2],[1997.84,0.5],[1997.90,1.35],[1998.00,0.4],[1998.09,0.75],[1998.19,0.65],[1998.29,0.75],[1998.38,0.5],[1998.48,0.5],[1998.58,0.3],[1998.68,0.15],[1998.77,-0.3],[1998.87,-0.5],[1998.97,0.05],[1999.06,-0.05],[1999.16,1.45],[1999.26,1.0],[1999.35,1.2],[1999.45,1.7],[1999.55,0.65],[1999.65,0.4],[1999.74,0.4],[1999.84,0.65],[1999.94,1.55],[2000.03,1.0],[2000.13,0.65],[2000.23,-0.05],[2000.32,-1.2],[2000.42,-0.3],[2000.52,0.75],[2000.61,0.3],[2000.71,-0.05],[2000.81,0.15],[2000.91,-0.05],[2001.00,0.75],[2001.10,1.0],[2001.20,1.35],[2001.29,1.9],[2001.39,1.45],[2001.49,0.65],[2001.58,-0.05],[2001.68,-0.5],[2001.78,0.05],[2001.87,1.8],[2001.94,1.45],[2002.00,-0.5],[2002.10,0.3],[2002.20,1.55],[2002.30,1.1],[2002.39,0.4],[2002.49,0.3],[2002.59,0.05],[2002.68,0.75],[2002.78,-0.3],[2002.88,0.3],[2002.97,1.0],[2003.07,0.65],[2003.17,0.05],[2003.27,0.4],[2003.36,0.3],[2003.46,0.85],[2003.56,0.65],[2003.65,0.4],[2003.75,1.0],[2003.85,1.2],[2003.94,-0.5],[2004.04,-0.4],[2004.14,-1.35],[2004.23,-1.45],[2004.33,-0.15],[2004.43,0.3],[2004.53,0.4],[2004.62,0.65],[2004.72,1.2],[2004.82,1.35],[2004.91,0.3],[2005.01,0.4],[2005.11,-0.15],[2005.21,-0.4],[2005.30,-0.65],[2005.40,-1.0],[2005.49,0.05],[2005.59,0.05],[2005.69,0.15],[2005.79,0.15],[2005.88,0.4],[2005.98,1.45],[2006.08,0.5],[2006.17,0.65],[2006.27,0.75],[2006.37,0.75],[2006.46,0.85],[2006.56,0.75],[2006.66,0.4],[2006.76,0.5],[2006.85,0.3],[2006.95,0.05],[2007.05,-0.85],[2007.14,-0.85],[2007.24,0.4],[2007.34,0.5],[2007.43,0.65],[2007.53,0.4],[2007.63,0.65],[2007.73,0.5],[2007.82,0.85],[2007.92,0.75],[2008.02,0.65],[2008.08,1.45],[2008.18,0.5],[2008.27,0.85],[2008.37,0.3],[2008.47,0.85],[2008.57,0.65],[2008.66,0.3],[2008.76,0.05],[2008.86,1.0],[2008.95,1.2],[2009.05,0.65],[2009.15,1.1],[2009.24,0.3],[2009.34,0.05],[2009.44,0.4],[2009.54,0.05],[2009.63,0.5],[2009.73,0.05],[2009.83,1.0],[2009.92,1.1],[2010.02,0.05],[2010.12,-0.75],[2010.21,-1.0],[2010.28,-1.55],[2010.38,-0.4],[2010.47,-0.5],[2010.57,0.4],[2010.67,0.65],[2010.76,1.1],[2010.86,2.15],[2010.96,2.5],[2011.05,2.7],[2011.15,2.5],[2011.25,1.8],[2011.35,-0.15],[2011.44,-0.4],[2011.54,-0.15],[2011.64,0.3],[2011.73,1.0],[2011.83,-0.4],[2011.93,-1.0],[2012.02,-0.5],[2012.12,-0.65],[2012.22,-0.5],[2012.31,-0.65],[2012.41,-0.4],[2012.51,-0.5],[2012.61,-0.3],[2012.70,-0.15],[2012.80,1.0],[2012.90,2.25],[2012.99,1.0],[2013.06,-0.85],[2013.15,-0.75],[2013.25,-0.4],[2013.35,-0.15],[2013.45,-0.5],[2013.54,-0.3],[2013.64,-0.65],[2013.74,-0.5],[2013.83,-0.15],[2013.93,0.05],[2013.99,1.2],[2014.09,-0.4],[2014.19,-1.0],[2014.28,-0.15],[2014.38,0.05],[2014.48,0.3],[2014.58,0.75],[2014.67,0.05],[2014.77,0.15],[2014.87,1.1],[2014.96,-0.15],[2015.06,-1.0],[2015.13,-2.15],[2015.22,-0.5],[2015.32,-0.65],[2015.42,-0.85],[2015.51,-0.65],[2015.61,0.05],[2015.71,0.4],[2015.85,0.3]];

const panelSeries = [seriesTop, seriesMiddle, seriesBottom];

// ---------------- LAYOUT ----------------
const W = 1243, H = 851;
const plotLeft = 51, pxPerYear = 20.626;
const panelTops = [14, 297, 578.5];
const panelHeight = 230;
const svg = d3.select("#chart");

const x = d3.scaleLinear().domain([1958, 2016]).range([plotLeft, plotLeft + 58 * pxPerYear]);
const plotRight = x.range()[1];
const yearLines = d3.range(1959, 2017);

panelSeries.forEach((series, i) => {
  const top = panelTops[i], bottom = top + panelHeight;
  const y = d3.scaleLinear().domain([-4, 4]).range([bottom, top]);
  const g = svg.append("g");
  const clipId = "clip" + i;
  g.append("clipPath").attr("id", clipId).append("rect")
    .attr("x", plotLeft).attr("y", top).attr("width", plotRight - plotLeft).attr("height", panelHeight);

  // bands
  g.append("g").selectAll("rect").data(bandStarts.map((s, k) => ({s, e: bandEnds[k], kind: bandKinds[k]})))
    .join("rect")
    .attr("x", d => x(d.s)).attr("width", d => x(d.e) - x(d.s))
    .attr("y", top).attr("height", panelHeight)
    .attr("fill", d => bandColors[d.kind]);

  // dotted grid
  const grid = g.append("g").attr("stroke", "#000").attr("stroke-width", 1.4).attr("stroke-dasharray", "1.5,1.7");
  grid.selectAll("line.v").data(yearLines).join("line").attr("class", "v")
    .attr("x1", d => x(d)).attr("x2", d => x(d)).attr("y1", top).attr("y2", bottom);
  grid.selectAll("line.h").data(dottedLevels).join("line").attr("class", "h")
    .attr("x1", plotLeft).attr("x2", plotRight).attr("y1", d => y(d)).attr("y2", d => y(d));

  // thresholds
  g.append("g").selectAll("line").data(thresholdLevels).join("line")
    .attr("x1", plotLeft).attr("x2", plotRight).attr("y1", d => y(d)).attr("y2", d => y(d))
    .attr("stroke", "#000").attr("stroke-width", 2.2);

  // series line
  const line = d3.line().x(d => x(d[0])).y(d => y(d[1]));
  g.append("path").datum(series).attr("d", line)
    .attr("clip-path", `url(#${clipId})`)
    .attr("fill", "none").attr("stroke", "#000").attr("stroke-width", 2.1)
    .attr("stroke-linejoin", "round");

  // frame
  const frame = g.append("g").attr("stroke", "#000").attr("stroke-width", 3.2);
  frame.append("line").attr("x1", plotLeft).attr("x2", W + 10).attr("y1", top).attr("y2", top);
  frame.append("line").attr("x1", plotLeft).attr("x2", W + 10).attr("y1", bottom).attr("y2", bottom);
  frame.append("line").attr("x1", plotLeft).attr("x2", plotLeft).attr("y1", top - 1.6).attr("y2", bottom + 1.6);

  // axes
  const yAxis = d3.axisLeft(y).tickValues(yTickValues).tickFormat(d3.format("d")).tickSize(11).tickPadding(9);
  const ya = g.append("g").attr("transform", `translate(${plotLeft - 1.5},0)`).call(yAxis);
  const xAxis = d3.axisBottom(x).tickValues(xTickYears).tickFormat((d, k) => xTickLabels[k]).tickSize(14).tickPadding(9);
  const xa = g.append("g").attr("transform", `translate(0,${bottom + 1.5})`).call(xAxis);
  [ya, xa].forEach(a => {
    a.select(".domain").remove();
    a.selectAll(".tick line").attr("stroke", "#666").attr("stroke-width", 1.4);
    a.selectAll(".tick text").attr("fill", "#2e2e2e")
      .style("font-family", "'DejaVu Sans', sans-serif").style("font-weight", "bold").style("font-size", "18px");
  });
});
</script>
</body></html>
